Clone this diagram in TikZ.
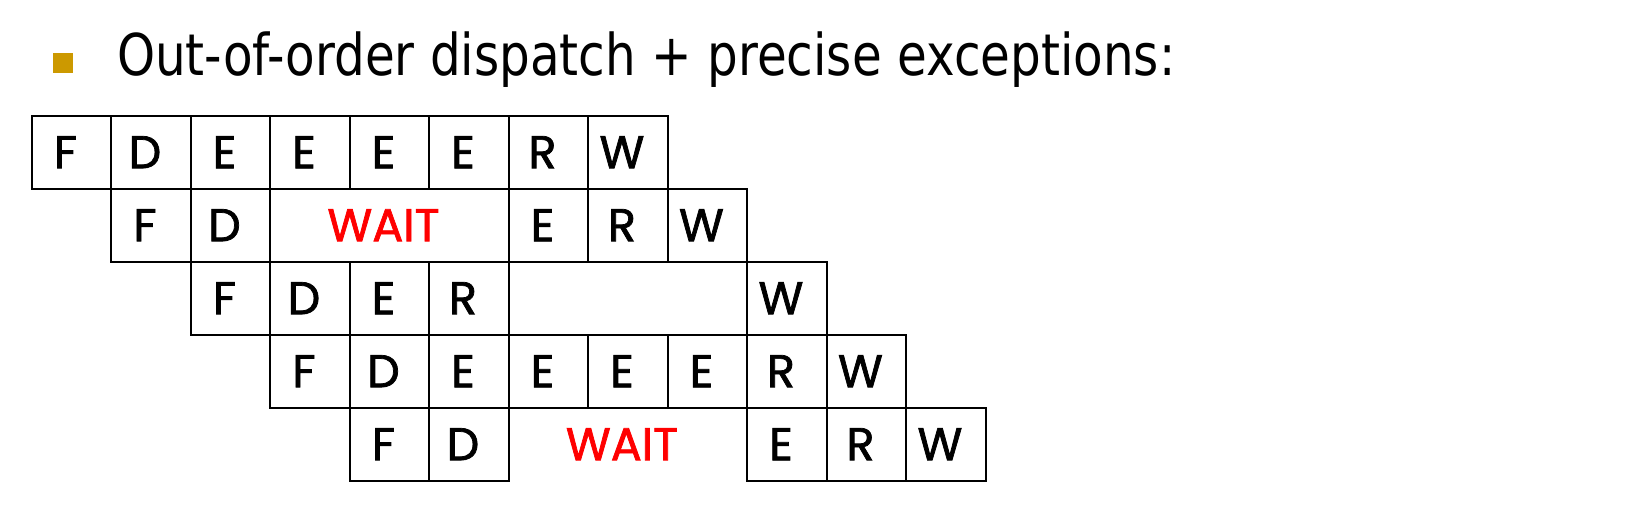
\documentclass[tikz,border=0pt]{standalone}
\usepackage{fontspec}
\setmainfont{DejaVu Sans}
\newfontfamily\cellfont{Poppins}[FakeBold=1.6]
\usepackage{graphicx}
\usepackage{tikz}
\usetikzlibrary{positioning}
\definecolor{bulletgold}{RGB}{204,153,0}
\tikzstyle{cell}=[rectangle, draw=black, line width=1.8pt, minimum width=79.5pt, minimum height=73pt, inner sep=0pt, outer sep=0pt, font=\cellfont\fontsize{46}{46}\selectfont, execute at begin node=\hspace*{-12pt}]
\tikzstyle{waitcell}=[cell, draw=none, text=red, minimum width=238.5pt]

\begin{document}
\begin{tikzpicture}[x=1pt, y=-1pt, node distance=0pt]
	\useasboundingbox (0,0) rectangle (1636,513);

	\node[fill=bulletgold, minimum size=20pt, inner sep=0pt, anchor=north west] (bullet) at (53,53) {};
	\node[anchor=base west, inner sep=0pt] (title) at (117,76) {\resizebox{1058pt}{\height}{\fontsize{57.6}{60}\selectfont Out-of-order dispatch + precise exceptions:}};

	% instruction 1
	\node[cell, anchor=north west] (i1F) at (31.7,115.7) {F};
	\node[cell, right=of i1F] (i1D) {D};
	\node[cell, right=of i1D] (i1E1) {E};
	\node[cell, right=of i1E1] (i1E2) {E};
	\node[cell, right=of i1E2] (i1E3) {E};
	\node[cell, right=of i1E3] (i1E4) {E};
	\node[cell, right=of i1E4] (i1R) {R};
	\node[cell, right=of i1R] (i1W) {W};

	% instruction 2
	\node[cell, below=of i1D] (i2F) {F};
	\node[cell, right=of i2F] (i2D) {D};
	\node[waitcell, right=of i2D] (i2wait) {WAIT};
	\node[cell, right=of i2wait] (i2E) {E};
	\node[cell, right=of i2E] (i2R) {R};
	\node[cell, right=of i2R] (i2W) {W};

	% instruction 3
	\node[cell, below=of i2D] (i3F) {F};
	\node[cell, right=of i3F] (i3D) {D};
	\node[cell, right=of i3D] (i3E) {E};
	\node[cell, right=of i3E] (i3R) {R};
	\node[cell, right=238.5pt of i3R] (i3W) {W};

	% instruction 4
	\node[cell, below=of i3D] (i4F) {F};
	\node[cell, right=of i4F] (i4D) {D};
	\node[cell, right=of i4D] (i4E1) {E};
	\node[cell, right=of i4E1] (i4E2) {E};
	\node[cell, right=of i4E2] (i4E3) {E};
	\node[cell, right=of i4E3] (i4E4) {E};
	\node[cell, right=of i4E4] (i4R) {R};
	\node[cell, right=of i4R] (i4W) {W};

	% instruction 5
	\node[cell, below=of i4D] (i5F) {F};
	\node[cell, right=of i5F] (i5D) {D};
	\node[waitcell, right=of i5D] (i5wait) {WAIT};
	\node[cell, right=of i5wait] (i5E) {E};
	\node[cell, right=of i5E] (i5R) {R};
	\node[cell, right=of i5R] (i5W) {W};
\end{tikzpicture}
\end{document}
